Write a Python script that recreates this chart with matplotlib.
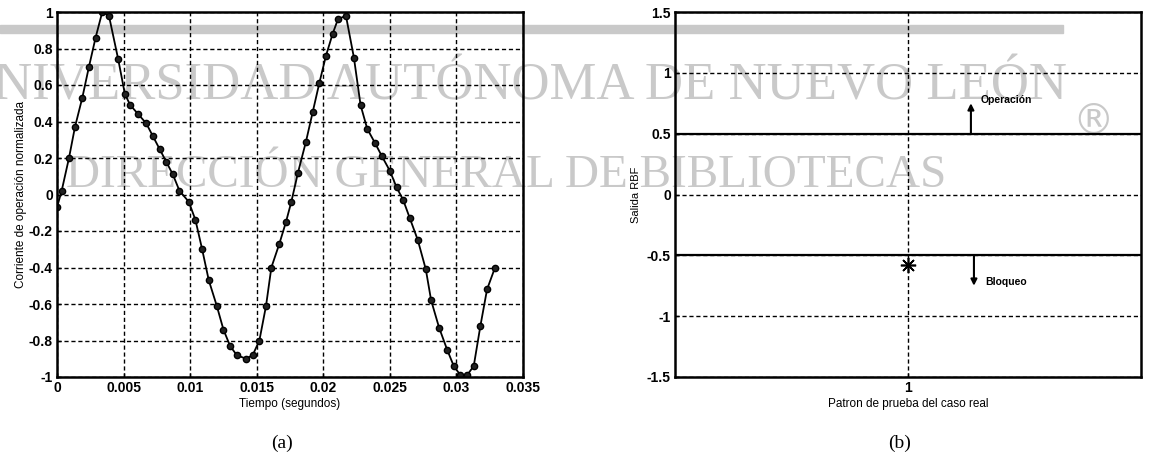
import numpy as np
import matplotlib
matplotlib.use("Agg")
import matplotlib.pyplot as plt

# (a) normalized operating current vs time
tiempo = [0.0000, 0.00035, 0.0009, 0.00135, 0.0019, 0.0024, 0.0029, 0.0034,
          0.0039, 0.0046, 0.0051, 0.0055, 0.0061, 0.0067, 0.0072, 0.0077,
          0.0082, 0.0087, 0.0092, 0.0099, 0.0104, 0.0109, 0.0114, 0.0120,
          0.0125, 0.0130, 0.0135, 0.0142, 0.0147, 0.0152, 0.0157, 0.0161,
          0.0167, 0.0172, 0.0176, 0.0181, 0.0187, 0.0192, 0.0197, 0.0202,
          0.0207, 0.0211, 0.0217, 0.0223, 0.0228, 0.0233, 0.0239, 0.0244,
          0.0250, 0.0255, 0.0260, 0.0265, 0.0271, 0.0277, 0.0281, 0.0287,
          0.0293, 0.0298, 0.0303, 0.0308, 0.0313, 0.0318, 0.0323, 0.0329]
corriente = [-0.07, 0.02, 0.20, 0.37, 0.53, 0.70, 0.86, 1.00,
             0.98, 0.74, 0.55, 0.49, 0.44, 0.39, 0.32, 0.25,
             0.18, 0.11, 0.02, -0.04, -0.14, -0.30, -0.47, -0.61,
             -0.74, -0.83, -0.88, -0.90, -0.88, -0.80, -0.61, -0.40,
             -0.27, -0.15, -0.04, 0.12, 0.29, 0.45, 0.61, 0.76,
             0.88, 0.96, 0.98, 0.75, 0.49, 0.36, 0.28, 0.21,
             0.13, 0.04, -0.03, -0.13, -0.25, -0.41, -0.58, -0.73,
             -0.85, -0.94, -0.99, -0.99, -0.94, -0.72, -0.52, -0.40]
xticks_a = [0, 0.005, 0.01, 0.015, 0.02, 0.025, 0.03, 0.035]
xlabels_a = ["0", "0.005", "0.01", "0.015", "0.02", "0.025", "0.03", "0.035"]
yticks_a = [-1, -0.8, -0.6, -0.4, -0.2, 0, 0.2, 0.4, 0.6, 0.8, 1]
ylabels_a = ["-1", "-0.8", "-0.6", "-0.4", "-0.2", "0", "0.2", "0.4", "0.6", "0.8", "1"]

# (b) RBF output for the real test pattern
patron = [1]
salida_rbf = [-0.58]
umbral_op = 0.5
umbral_bl = -0.5
yticks_b = [-1.5, -1, -0.5, 0, 0.5, 1, 1.5]
ylabels_b = ["-1.5", "-1", "-0.5", "0", "0.5", "1", "1.5"]

plt.rcParams['font.family'] = ['Liberation Sans', 'DejaVu Sans']
plt.rcParams['font.weight'] = 'bold'

fig = plt.figure(figsize=(11.49, 4.59), dpi=100)
W, H = 1149., 459.

def px_axes(x0, x1, y0, y1):
    return fig.add_axes([x0 / W, 1 - y1 / H, (x1 - x0) / W, (y1 - y0) / H])

grid_style = dict(color='black', linestyle=(0, (3, 2)), linewidth=1.0)

def style(ax):
    ax.set_facecolor('none')
    for s in ax.spines.values():
        s.set_linewidth(1.8)
        s.set_color('black')
    ax.tick_params(direction='in', length=3, width=1, labelsize=10, pad=3)
    ax.grid(True, **grid_style)

ax1 = px_axes(57, 523, 12, 377)
style(ax1)
ax1.plot(tiempo, corriente, '-o', color='black', lw=1.3, ms=4.5,
         mfc='#222222', mec='black')
ax1.set_xlim(0, 0.035)
ax1.set_ylim(-1, 1)
ax1.set_xticks(xticks_a)
ax1.set_xticklabels(xlabels_a)
ax1.set_yticks(yticks_a)
ax1.set_yticklabels(ylabels_a)
ax1.set_xlabel("Tiempo (segundos)", fontsize=8.5, labelpad=2)
ax1.set_ylabel("Corriente de operación normalizada", fontsize=8.5, labelpad=1)

ax2 = px_axes(675, 1141, 12, 377)
style(ax2)
ax2.axhline(umbral_op, color='black', lw=1.6)
ax2.axhline(umbral_bl, color='black', lw=1.6)
ax2.plot(patron, salida_rbf, marker=(8, 2, 0), ls='none', color='black',
         ms=11, mew=1.2)
ax2.set_xlim(0, 2)
ax2.set_ylim(-1.5, 1.5)
ax2.set_xticks(patron)
ax2.set_xticklabels(["1"])
ax2.set_yticks(yticks_b)
ax2.set_yticklabels(ylabels_b)
ax2.set_xlabel("Patron de prueba del caso real", fontsize=8.5, labelpad=2)
ax2.set_ylabel("Salida RBF", fontsize=8, labelpad=4)
ax2.annotate("", xy=(1.27, 0.75), xytext=(1.27, umbral_op),
             arrowprops=dict(arrowstyle='-|>', color='black', lw=1.5,
                             mutation_scale=9, shrinkA=0, shrinkB=0))
ax2.annotate("", xy=(1.283, -0.75), xytext=(1.283, umbral_bl),
             arrowprops=dict(arrowstyle='-|>', color='black', lw=1.5,
                             mutation_scale=9, shrinkA=0, shrinkB=0))
ax2.text(1.31, 0.78, "Operación", fontsize=7.5, va='center')
ax2.text(1.33, -0.72, "Bloqueo", fontsize=7.5, va='center')

# panel captions
fig.text(282 / W, 1 - 443 / H, "(a)", fontsize=14, family='Liberation Serif',
         weight='normal', ha='center', va='center')
fig.text(900 / W, 1 - 443 / H, "(b)", fontsize=14, family='Liberation Serif',
         weight='normal', ha='center', va='center')

# scanned library watermark
wm = '#c9c9c9'
fig.add_artist(plt.Rectangle((0, 1 - 33 / H), 1063 / W, 8 / H,
                             transform=fig.transFigure, color=wm, zorder=-2))
fig.text(512 / W, 1 - 100 / H, "UNIVERSIDAD AUTÓNOMA DE NUEVO LEÓN",
         fontsize=38, family='Liberation Serif', weight='normal', color=wm,
         ha='center', va='baseline', zorder=-1)
fig.text(506 / W, 1 - 187 / H, "DIRECCIÓN GENERAL DE BIBLIOTECAS",
         fontsize=34, family='Liberation Serif', weight='normal', color=wm,
         ha='center', va='baseline', zorder=-1)
fig.text(1093 / W, 1 - 122 / H, "®", fontsize=30, family='DejaVu Sans',
         weight='normal', color=wm, ha='center', va='center', zorder=-1)

fig.savefig("out.png", dpi=100)
